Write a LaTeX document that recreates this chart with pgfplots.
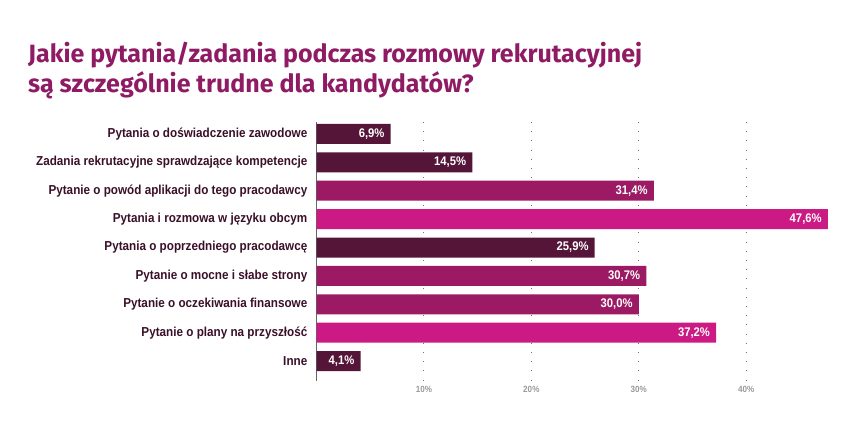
\documentclass[border=0pt]{standalone}
\usepackage{pgfplots}
\pgfplotsset{compat=1.18}
\usepackage{fontspec}
\setmainfont{Liberation Sans}
\newfontfamily\titlefont{Fira Sans}
\newfontfamily\condfont[FakeStretch=0.9]{Liberation Sans}
\definecolor{titlecol}{HTML}{8E1B63}
\definecolor{cdark}{HTML}{541539}
\definecolor{cmed}{HTML}{9B1A63}
\definecolor{cbright}{HTML}{CB1A83}
\definecolor{labcol}{HTML}{3A1028}
\begin{document}
\begin{tikzpicture}
\path[use as bounding box] (0,0) rectangle (853bp,443bp);
\node[anchor=base west, inner sep=0pt, text=titlecol, font=\titlefont\bfseries\fontsize{25bp}{30bp}\selectfont] at (28bp,380bp) {Jakie pytania/zadania podczas rozmowy rekrutacyjnej};
\node[anchor=base west, inner sep=0pt, text=titlecol, font=\titlefont\bfseries\fontsize{25bp}{30bp}\selectfont] at (28bp,350bp) {są szczególnie trudne dla kandydatów?};
\begin{axis}[
  at={(316.5bp,62bp)}, anchor=south west,
  scale only axis, width=521bp, height=259bp,
  xbar, bar width=20bp, bar shift=0pt,
  xmin=0, xmax=48.5,
  ymin=-0.42, ymax=8.7, y dir=reverse,
  axis lines*=left, axis line style={-},
  x axis line style={draw=none},
  y axis line style={draw=black!60, line width=1.5bp},
  major tick length=0pt,
  /pgf/number format/assume math mode=true,
  xtick={10,20,30,40},
  xticklabel={\pgfmathprintnumber{\tick}\%},
  xticklabel style={font=\condfont\bfseries\fontsize{9bp}{10bp}\selectfont, text=black!40, inner sep=0pt, yshift=-5bp},
  xmajorgrids, major grid style={draw=black!55, line width=1bp, dash pattern=on 1bp off 8.2bp},
  ytick={0,...,8},
  yticklabels={Pytania o doświadczenie zawodowe, Zadania rekrutacyjne sprawdzające kompetencje, Pytanie o powód aplikacji do tego pracodawcy, Pytania i rozmowa w języku obcym, Pytania o poprzedniego pracodawcę, Pytanie o mocne i słabe strony, Pytanie o oczekiwania finansowe, Pytanie o plany na przyszłość, Inne},
  yticklabel style={font=\condfont\bfseries\fontsize{13bp}{15bp}\selectfont, text=labcol, inner sep=0pt, anchor=east, xshift=-9bp},
  nodes near coords,
  point meta=explicit symbolic,
  nodes near coords style={anchor=east, text=white, font=\condfont\bfseries\fontsize{12.5bp}{14bp}\selectfont, inner sep=0pt, xshift=-6bp},
]
\addplot[fill=cdark, draw=none] table[meta=lab] {
x y lab
6.9 0 6,9\%
14.5 1 14,5\%
25.9 4 25,9\%
4.1 8 4,1\%
};
\addplot[fill=cmed, draw=none] table[meta=lab] {
x y lab
31.4 2 31,4\%
30.7 5 30,7\%
30.0 6 30,0\%
};
\addplot[fill=cbright, draw=none] table[meta=lab] {
x y lab
47.6 3 47,6\%
37.2 7 37,2\%
};
\end{axis}
\end{tikzpicture}
\end{document}
